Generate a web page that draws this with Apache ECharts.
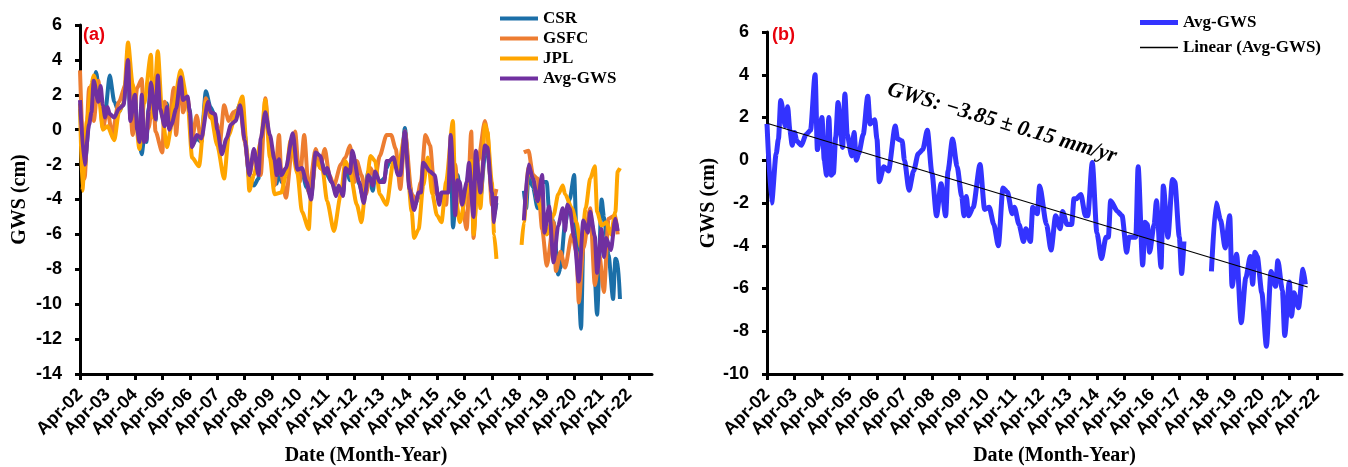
<!DOCTYPE html>
<html>
<head>
<meta charset="utf-8">
<title>GWS</title>
<script src="https://cdn.jsdelivr.net/npm/echarts@6/dist/echarts.min.js"></script>
<style>
html, body { margin: 0; padding: 0; background: #fff; }
#main { width: 1348px; height: 467px; }
</style>
</head>
<body>
<div id="main"></div>
<script>
// x values are months counted from Apr-2002
var tickMonths = [0, 12, 24, 36, 48, 60, 72, 84, 96, 108, 120, 132, 144, 156, 168, 180, 192, 204, 216, 228, 240];
var tickLabels = ['Apr-02', 'Apr-03', 'Apr-04', 'Apr-05', 'Apr-06', 'Apr-07', 'Apr-08', 'Apr-09', 'Apr-10', 'Apr-11',
    'Apr-12', 'Apr-13', 'Apr-14', 'Apr-15', 'Apr-16', 'Apr-17', 'Apr-18', 'Apr-19', 'Apr-20', 'Apr-21', 'Apr-22'];

var csrGws = [[0,1.2],[2,-2.2],[4,0.5],[6,2.5],[7,3.3],[9,1.5],[11,1.0],[13,3.1],[15,1.6],[17,1.0],[19,1.5],[21,3.9],[22,0.6],[24,2.2],[25,0.2],[27,-1.4],[28,-0.5],[29,-0.7],[30,1.2],[31,2.6],[33,0.5],[34,3.0],[35,1.4],[37,0.4],[38,1.5],[39,0.1],[40,0.4],[42,1.0],[44,3.2],[45,1.8],[47,1.6],[48,1.1],[49,-0.9],[51,-0.5],[53,-0.7],[55,2.2],[57,1.3],[59,0.8],[60,-0.3],[62,-1.2],[64,-0.7],[66,0.2],[68,0.8],[70,1.5],[72,-0.3],[74,-2.8],[76,-3.2],[78,-2.8],[79,-0.8],[81,0.9],[83,-0.6],[85,-2.0],[86,-3.1],[87,-1.5],[88,-3.0],[90,-2.4],[93,-0.5],[95,-2.2],[97,-2.4],[99,-3.3],[101,-3.8],[103,-1.5],[105,-1.7],[107,-2.3],[108,-2.6],[110,-3.0],[112,-3.5],[113,-3.3],[115,-3.6],[116,-2.0],[118,-2.9],[119,-1.4],[122,-3.1],[124,-4.0],[126,-2.4],[128,-3.5],[129,-2.5],[131,-3.0],[133,-2.8],[134,-2.2],[135,-1.9],[137,-1.6],[139,-2.4],[140,-3.0],[142,0.1],[144,-3.2],[146,-4.4],[148,-3.9],[149,-3.4],[150,-2.2],[153,-2.0],[155,-2.9],[157,-4.1],[158,-3.8],[161,-3.2],[162,-0.9],[163,-5.6],[165,-2.6],[166,-3.3],[167,-4.0],[169,-3.2],[170,-2.4],[172,-4.6],[173,-1.3],[175,-3.9],[177,-1.4],[178,-1.2],[180,-3.4],[181,-4.9],[182,-4.2],
    [188,null],
    [194,-3.5],[195,-4.5],[196,-2.6],[198,-3.3],[200,-4.5],[202,-3.0],[204,-3.0],[205,-4.6],[207,-5.3],[209,-8.3],[210,-7.9],[212,-5.4],[214,-4.0],[216,-2.6],[217,-6.0],[219,-11.4],[220,-6.5],[222,-5.3],[224,-5.5],[226,-10.6],[228,-4.0],[229,-5.0],[231,-7.2],[233,-9.7],[234,-7.4],[235,-7.5],[236,-9.7]];

var gsfcGws = [[0,3.4],[2,-2.8],[4,2.4],[6,0.5],[8,2.8],[10,0.1],[12,1.2],[14,-0.3],[17,1.6],[20,2.6],[21,3.7],[23,-0.3],[25,2.4],[27,2.9],[28,-0.3],[30,0.1],[32,2.0],[33,-0.1],[36,-1.3],[37,1.6],[39,0.5],[41,2.4],[42,-0.3],[44,3.3],[45,1.0],[47,1.8],[49,-0.5],[51,0.8],[53,-0.7],[55,1.8],[57,0.7],[60,0.3],[61,-0.9],[63,1.4],[65,0.5],[67,1.0],[70,1.2],[72,-0.7],[74,-2.6],[76,-1.5],[79,-2.6],[81,1.8],[83,-1.1],[85,-3.2],[87,-0.3],[88,-2.6],[90,-3.9],[93,-0.7],[94,-0.1],[96,-3.0],[98,-0.3],[100,-3.6],[103,-1.1],[105,-2.2],[107,-1.1],[109,-2.6],[111,-3.2],[114,-2.0],[116,-1.6],[118,-0.9],[120,-3.0],[121,-1.8],[123,-2.6],[125,-3.7],[127,-2.2],[129,-2.8],[131,-1.5],[134,-0.3],[136,-0.3],[138,-1.1],[140,-3.4],[142,-0.1],[145,-3.7],[147,-4.1],[149,-3.0],[151,-0.3],[153,-0.9],[155,-3.6],[158,-3.9],[160,-4.3],[161,-2.6],[164,-2.0],[165,-3.2],[167,-4.3],[169,-5.7],[171,-0.1],[172,-6.2],[174,-1.8],[177,0.5],[178,-0.1],[180,-4.3],[182,-3.4],
    [188,null],
    [194,-1.3],[196,-1.2],[198,-2.6],[200,-2.8],[202,-5.7],[204,-7.8],[207,-5.3],[208,-8.1],[210,-7.0],[212,-7.9],[215,-6.0],[217,-7.0],[218,-9.9],[220,-6.8],[223,-4.5],[225,-8.9],[227,-7.2],[229,-9.3],[231,-5.1],[234,-4.9],[235,-6.0]];

var jplGws = [[0,1.5],[1,-3.5],[3,0.5],[5,2.6],[6,3.1],[8,2.2],[10,0.0],[12,0.2],[15,-0.6],[17,1.0],[19,1.5],[21,5.0],[23,2.6],[26,-1.1],[28,1.5],[31,4.3],[32,0.7],[34,4.5],[36,0.7],[38,-1.0],[40,0.2],[41,1.5],[44,3.4],[47,1.6],[49,-1.6],[52,-2.1],[55,1.6],[57,1.0],[60,-0.9],[63,-2.8],[65,-0.3],[68,0.8],[71,1.9],[73,-1.3],[74,-3.5],[76,-2.6],[79,-0.7],[81,1.7],[83,-1.6],[85,-3.7],[88,-3.6],[90,-2.6],[92,-0.6],[95,-2.5],[97,-4.7],[100,-5.7],[101,-3.7],[103,-1.8],[106,-2.3],[108,-4.1],[111,-5.8],[114,-3.7],[116,-1.8],[118,-2.4],[121,-4.3],[123,-5.3],[125,-3.2],[127,-1.5],[129,-1.8],[131,-3.7],[134,-4.3],[137,-1.8],[139,-2.2],[142,-0.3],[145,-4.7],[146,-6.2],[148,-5.7],[150,-3.2],[152,-1.6],[154,-3.7],[156,-4.9],[158,-5.3],[160,-3.0],[163,0.5],[164,-3.7],[166,-5.3],[169,-3.6],[171,-1.8],[172,-6.0],[174,-2.6],[175,-4.5],[177,0.3],[178,-0.1],[180,-3.0],[181,-6.0],[182,-7.4],
    [188,null],
    [193,-6.6],[194,-5.3],[196,-2.2],[198,-2.8],[200,-4.1],[202,-4.7],[204,-6.0],[207,-4.9],[209,-3.7],[211,-3.2],[212,-3.7],[215,-4.5],[217,-5.3],[219,-6.8],[221,-4.5],[223,-2.8],[225,-2.1],[226,-4.7],[228,-5.5],[230,-5.3],[232,-6.0],[234,-4.7],[235,-2.4],[236,-2.2]];

var avgGws = [[0,1.7],[2,-2.0],[4,0.3],[5,1.0],[6,2.8],[8,1.6],[9,2.5],[10,1.4],[11,0.7],[12,1.3],[13,0.9],[15,0.7],[17,1.2],[19,1.4],[21,4.0],[22,0.5],[24,2.0],[25,0.0],[26,-0.7],[27,2.0],[28,-0.7],[29,-0.6],[30,1.1],[31,2.7],[33,0.6],[34,3.1],[35,1.2],[37,0.2],[38,1.3],[39,0.0],[40,0.3],[42,1.2],[44,3.0],[45,1.7],[47,1.9],[48,1.0],[49,-1.0],[51,-0.3],[53,-0.5],[56,1.6],[57,1.0],[59,0.9],[60,0.0],[62,-1.4],[64,-0.5],[66,0.3],[68,0.5],[70,1.4],[72,-0.6],[74,-2.6],[76,-1.1],[78,-2.6],[79,-0.5],[81,1.0],[83,-0.3],[85,-1.7],[86,-2.6],[87,-1.7],[88,-2.6],[90,-2.2],[93,-0.2],[95,-2.3],[97,-2.2],[99,-3.0],[101,-4.0],[103,-1.3],[105,-1.5],[107,-2.5],[108,-2.2],[110,-3.0],[112,-3.8],[113,-3.2],[115,-3.8],[116,-2.2],[118,-2.5],[119,-1.2],[122,-3.0],[124,-4.2],[126,-2.6],[128,-3.2],[129,-2.4],[131,-3.0],[133,-3.0],[134,-1.8],[135,-1.8],[137,-1.6],[139,-2.6],[140,-2.6],[142,-0.1],[144,-3.4],[146,-4.6],[148,-3.6],[149,-3.6],[150,-1.9],[153,-2.4],[155,-2.6],[157,-4.3],[158,-3.6],[161,-3.6],[162,-0.3],[164,-4.9],[165,-2.9],[166,-3.0],[167,-4.3],[169,-3.0],[170,-1.9],[172,-5.0],[173,-1.2],[175,-3.6],[177,-0.9],[178,-1.0],[180,-3.6],[181,-5.3],[182,-3.8],
    [188,null],
    [194,-5.2],[196,-2.0],[198,-2.8],[200,-4.1],[202,-2.6],[203,-5.9],[205,-4.4],[207,-7.6],[209,-5.5],[211,-4.5],[212,-5.8],[213,-4.3],[214,-4.5],[216,-6.2],[218,-8.7],[220,-5.2],[222,-5.9],[223,-4.7],[225,-6.1],[226,-8.2],[228,-5.7],[229,-7.3],[230,-6.2],[232,-6.9],[234,-5.1],[235,-5.8]];

// end points of the linear fit drawn in panel (b)
var trendGws = [[0,1.73],[236,-5.93]];
var trendText = 'GWS: \u22123.85 \u00b1 0.15 mm/yr';

var chart = (function () {
    var serif = 'Liberation Serif';
    var sans = 'Liberation Sans';

    function dateAxis(gridIndex, max) {
        return {
            type: 'value',
            gridIndex: gridIndex,
            min: 0,
            max: max,
            name: 'Date (Month-Year)',
            nameLocation: 'middle',
            nameGap: 69,
            nameTextStyle: { fontFamily: serif, fontWeight: 'bold', fontSize: 20, color: '#000' },
            axisLine: { onZero: false, lineStyle: { color: '#000', width: 3 } },
            axisTick: { length: 6, customValues: tickMonths, lineStyle: { color: '#000', width: 3 } },
            axisLabel: {
                customValues: tickMonths,
                rotate: 45,
                margin: 18,
                fontFamily: sans,
                fontWeight: 'bold',
                fontSize: 18,
                color: '#000',
                formatter: function (v) {
                    return tickLabels[Math.round(v / 12)];
                }
            },
            splitLine: { show: false }
        };
    }

    function gwsAxis(gridIndex, min, nameGap) {
        return {
            type: 'value',
            gridIndex: gridIndex,
            min: min,
            max: 6,
            interval: 2,
            name: 'GWS (cm)',
            nameLocation: 'middle',
            nameGap: nameGap,
            nameTextStyle: { fontFamily: serif, fontWeight: 'bold', fontSize: 20, color: '#000' },
            axisLine: { show: true, lineStyle: { color: '#000', width: 3 } },
            axisTick: { show: true, length: 5, lineStyle: { color: '#000', width: 3 } },
            axisLabel: { margin: 18, fontFamily: sans, fontWeight: 'bold', fontSize: 18, color: '#000' },
            splitLine: { show: false }
        };
    }

    function gwsLine(name, data, axis, color, width) {
        return {
            name: name,
            type: 'line',
            xAxisIndex: axis,
            yAxisIndex: axis,
            data: data,
            symbol: 'none',
            smooth: 0.25,
            smoothMonotone: 'x',
            lineStyle: { color: color, width: width },
            itemStyle: { color: color }
        };
    }

    var legendText = { fontFamily: serif, fontWeight: 'bold', fontSize: 17, color: '#000', lineHeight: 17 };

    function init() {
        var myChart = echarts.init(document.getElementById('main'));
        var option = {
            animation: false,
            backgroundColor: '#fff',
            grid: [
                { left: 80, top: 25, width: 572, height: 349, outerBoundsMode: 'none' },
                { left: 767, top: 32, width: 575, height: 342, outerBoundsMode: 'none' }
            ],
            xAxis: [dateAxis(0, 250), dateAxis(1, 251)],
            yAxis: [gwsAxis(0, -14, 50), gwsAxis(1, -10, 46)],
            legend: [{
                orient: 'vertical', left: 495, top: 5, itemWidth: 38, itemHeight: 4, itemGap: 3,
                icon: 'rect', textStyle: legendText,
                data: [
                    { name: 'CSR', itemStyle: { color: '#1B6FA8' } },
                    { name: 'GSFC', itemStyle: { color: '#ED7D31' } },
                    { name: 'JPL', itemStyle: { color: '#FFA500' } },
                    { name: 'Avg-GWS', itemStyle: { color: '#7030A0' } }
                ]
            }, {
                orient: 'vertical', left: 1135, top: 9, itemWidth: 38, itemHeight: 5,
                icon: 'rect', textStyle: legendText,
                data: [{ name: 'Avg-GWS', itemStyle: { color: '#3333FF' } }]
            }, {
                orient: 'vertical', left: 1135, top: 34, itemWidth: 38, itemHeight: 1.5,
                icon: 'rect', textStyle: legendText,
                data: [{ name: 'Linear (Avg-GWS)', itemStyle: { color: '#000' } }]
            }],
            graphic: [{
                type: 'text', x: 83, y: 35,
                style: { text: '(a)', font: 'bold 18px "Liberation Sans"', fill: '#E8000B', textVerticalAlign: 'middle' }
            }, {
                type: 'text', x: 772, y: 35,
                style: { text: '(b)', font: 'bold 18px "Liberation Sans"', fill: '#E8000B', textVerticalAlign: 'middle' }
            }, {
                type: 'text', x: 1002, y: 123, rotation: -0.29,
                style: {
                    text: trendText, font: 'italic bold 22px "Liberation Serif"', fill: '#000',
                    textAlign: 'center', textVerticalAlign: 'middle'
                }
            }],
            series: [
                gwsLine('CSR', csrGws, 0, '#1B6FA8', 4),
                gwsLine('GSFC', gsfcGws, 0, '#ED7D31', 4),
                gwsLine('JPL', jplGws, 0, '#FFA500', 4),
                gwsLine('Avg-GWS', avgGws, 0, '#7030A0', 4),
                gwsLine('Avg-GWS', avgGws, 1, '#3333FF', 5),
                {
                    name: 'Linear (Avg-GWS)',
                    type: 'line',
                    xAxisIndex: 1,
                    yAxisIndex: 1,
                    data: trendGws,
                    symbol: 'none',
                    lineStyle: { color: '#000', width: 1.2 },
                    itemStyle: { color: '#000' }
                }
            ]
        };
        myChart.setOption(option);
    }
    return {
        init: init
    };
})();
chart.init();
</script>
</body>
</html>
